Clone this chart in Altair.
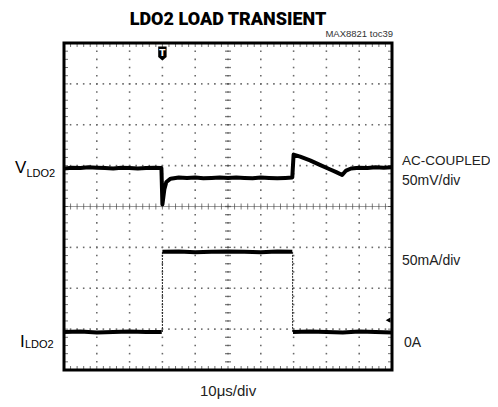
import altair as alt
import pandas as pd

# ---- trace data (x in divisions 0..10, y in divisions -4..4, centre = 0) ----
v_x = [0.0, 0.25, 0.5, 0.75, 1.0, 1.25, 1.5, 1.75, 2.0, 2.25, 2.5, 2.75, 2.97,
       3.0, 3.06, 3.12, 3.25, 3.5, 3.75, 4.0, 4.25, 4.5, 4.75, 5.0, 5.25, 5.5,
       5.75, 6.0, 6.25, 6.5, 6.75, 6.96,
       7.0, 7.2, 7.5, 7.8, 8.1, 8.3, 8.48, 8.6, 8.75, 9.0, 9.25, 9.5, 9.75, 10.0]
v_y = [0.93, 0.95, 0.94, 0.96, 0.95, 0.94, 0.93, 0.95, 0.94, 0.93, 0.94, 0.95, 0.94,
       0.05, 0.42, 0.60, 0.68, 0.71, 0.70, 0.71, 0.69, 0.70, 0.71, 0.70, 0.71, 0.70,
       0.69, 0.71, 0.70, 0.69, 0.70, 0.71,
       1.27, 1.22, 1.13, 1.02, 0.91, 0.84, 0.77, 0.88, 0.93, 0.95, 0.94, 0.96, 0.95, 0.96]

i_x = [0.0, 0.5, 1.0, 1.5, 2.0, 2.5, 2.98,
       3.0, 3.5, 4.0, 4.5, 5.0, 5.5, 6.0, 6.5, 6.96,
       6.98, 7.5, 8.0, 8.5, 9.0, 9.5, 10.0]
i_y = [-3.07, -3.06, -3.08, -3.07, -3.06, -3.07, -3.07,
       -1.11, -1.10, -1.12, -1.11, -1.10, -1.11, -1.12, -1.10, -1.11,
       -3.07, -3.06, -3.07, -3.08, -3.06, -3.07, -3.08]
i_seg = ["a"] * 7 + ["b"] * 9 + ["c"] * 7
i_edge_x = [3.0, 6.97]

grid_x = [1, 2, 3, 4, 6, 7, 8, 9]
grid_y = [-3, -2, -1, 1, 2, 3]
minor_x = [k * 0.2 for k in range(51)]
minor_y = [-4 + k * 0.2 for k in range(41)]

trigger_x = [3.0]
ground_x = [9.88]
ground_y = [-2.78]

FONT = "Liberation Sans, Arial, Helvetica, sans-serif"
TFONT = "Roboto, Liberation Sans, Arial, sans-serif"

xs = alt.Scale(domain=[0, 10], nice=False, zero=False)
ys = alt.Scale(domain=[-4, 4], nice=False, zero=False)

def X(f="x"):
    return alt.X(f"{f}:Q", scale=xs, axis=None)

def Y(f="y"):
    return alt.Y(f"{f}:Q", scale=ys, axis=None)

# grid dots
gdots = pd.DataFrame(
    [{"x": gx, "y": my} for gx in grid_x for my in minor_y]
    + [{"x": mx, "y": gy} for gy in grid_y for mx in minor_x]
)
grid = alt.Chart(gdots).mark_square(size=2.5, color="#6a6a6a", opacity=1).encode(x=X(), y=Y())

# centre cross with ticks
cx = pd.DataFrame({"x": minor_x, "y": [0] * len(minor_x)})
cy = pd.DataFrame({"x": [5] * len(minor_y), "y": minor_y})
cross_h_line = alt.Chart(pd.DataFrame({"y": [0]})).mark_rule(color="#9a9a9a", strokeWidth=1).encode(y=Y())
cross_h = alt.Chart(cx).mark_tick(orient="vertical", size=6, thickness=1, color="#444").encode(x=X(), y=Y())
cross_v = alt.Chart(cy).mark_tick(orient="horizontal", size=6, thickness=1.3, color="#444").encode(x=X(), y=Y())
cross_v_dots = alt.Chart(cy).mark_square(size=2.5, color="#6a6a6a").encode(x=X(), y=Y())

# edge ticks on frame
et_top = pd.DataFrame({"x": minor_x, "y": [4] * len(minor_x)})
et_bot = pd.DataFrame({"x": minor_x, "y": [-4] * len(minor_x)})
et_l = pd.DataFrame({"x": [0] * len(minor_y), "y": minor_y})
et_r = pd.DataFrame({"x": [10] * len(minor_y), "y": minor_y})
edge_ticks = alt.layer(
    alt.Chart(et_top).mark_tick(orient="vertical", size=8, thickness=1, color="#333", clip=True).encode(x=X(), y=Y()),
    alt.Chart(et_bot).mark_tick(orient="vertical", size=8, thickness=1, color="#333", clip=True).encode(x=X(), y=Y()),
    alt.Chart(et_l).mark_tick(orient="horizontal", size=8, thickness=1, color="#333", clip=True).encode(x=X(), y=Y()),
    alt.Chart(et_r).mark_tick(orient="horizontal", size=8, thickness=1, color="#333", clip=True).encode(x=X(), y=Y()),
)

# traces
vdf = pd.DataFrame({"x": v_x, "y": v_y})
v_line = alt.Chart(vdf).mark_line(color="black", strokeWidth=4, clip=True, strokeJoin="round").encode(
    x=X(), y=Y(), order="x:Q")

idf = pd.DataFrame({"x": i_x, "y": i_y, "seg": i_seg})
i_line = alt.Chart(idf).mark_line(color="black", strokeWidth=4, clip=True).encode(
    x=X(), y=Y(), detail="seg:N", order="x:Q")
edf = pd.DataFrame({"x": i_edge_x, "y": [-3.07, -1.11], "y2": [-1.11, -3.07]})
i_edges = alt.Chart(edf).mark_rule(color="#222", strokeWidth=1, strokeDash=[2, 1]).encode(
    x=X(), y=Y(), y2="y2:Q")

# markers
trig = alt.Chart(pd.DataFrame({"x": trigger_x})).mark_point(
    shape="M-0.6,-1 L0.6,-1 L0.6,0.5 L0,1 L-0.6,0.5 Z", size=196, filled=True, color="black", opacity=1
).encode(x=X(), y=alt.value(10.5))
trig_t = alt.Chart(pd.DataFrame({"x": trigger_x})).mark_text(
    text="T", color="white", fontSize=9, fontWeight="bold", font="DejaVu Sans", baseline="middle"
).encode(x=X(), y=alt.value(10))
gnd = alt.Chart(pd.DataFrame({"x": ground_x, "y": ground_y})).mark_point(
    shape="triangle-left", size=30, filled=True, color="black", opacity=1).encode(x=X(), y=Y())

frame = alt.Chart(pd.DataFrame({"a": [0]})).mark_rect(
    filled=False, stroke="black", strokeWidth=3, fill=None
).encode(x=alt.datum(0, scale=xs), x2=alt.datum(10), y=alt.datum(-4, scale=ys), y2=alt.datum(4))

def txt(s, px, py, size, weight="normal", align="left", color="black", font=FONT):
    return alt.Chart(pd.DataFrame({"t": [s]})).mark_text(
        text=s, align=align, baseline="alphabetic", fontSize=size, fontWeight=weight,
        font=font, color=color
    ).encode(x=alt.value(px), y=alt.value(py))

texts = [
    txt("LDO2 LOAD TRANSIENT", 164, -18, 18, weight=900, align="center", font=TFONT),
    txt("MAX8821 toc39", 329, -6, 9.5, align="right", color="#333"),
    txt("V", -49, 130, 17),
    txt("LDO2", -37.5, 133.5, 11),
    txt("I", -44, 304, 17),
    txt("LDO2", -39, 305, 11),
    txt("AC-COUPLED", 338, 122, 13.5, color="#222"),
    txt("50mV/div", 338, 142, 14, color="#222"),
    txt("50mA/div", 338, 222, 14, color="#222"),
    txt("0A", 340, 304, 14, color="#222"),
    txt("10\u03bcs/div", 136, 353, 15, color="#222"),
]

chart = alt.layer(
    grid, cross_h_line, cross_v_dots, cross_h, cross_v, edge_ticks,
    i_edges, v_line, i_line, trig, trig_t, gnd, frame, *texts
).properties(
    width=328, height=327,
    padding={"left": 56, "top": 35, "right": 98, "bottom": 29},
    autosize=alt.AutoSizeParams(type="none"),
    background="white",
).configure_view(stroke=None)

chart.save("out.html", embed_options={"renderer": "svg", "actions": False})
